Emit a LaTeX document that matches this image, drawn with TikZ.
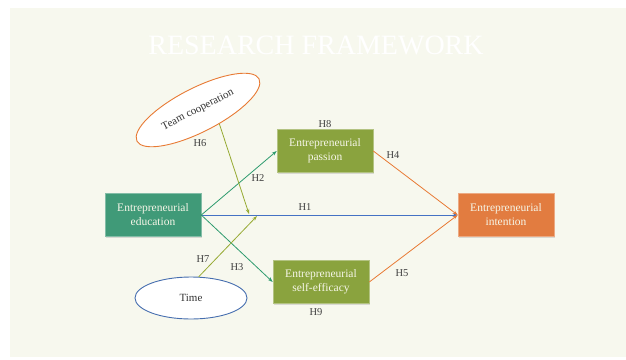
\documentclass[tikz,border=0pt]{standalone}
\usepackage{fontspec}
\setmainfont{Liberation Serif}
\usetikzlibrary{positioning}
\usetikzlibrary{shapes.geometric}
\usetikzlibrary{arrows.meta}
\usetikzlibrary{shadows}

\definecolor{eduteal}{RGB}{64,154,120}
\definecolor{midolive}{RGB}{138,163,62}
\definecolor{intorange}{RGB}{226,124,64}
\definecolor{linkblue}{RGB}{68,114,196}
\definecolor{linkgreen}{RGB}{46,155,110}
\definecolor{linklime}{RGB}{150,170,50}
\definecolor{linkorange}{RGB}{232,122,52}
\definecolor{ellblue}{RGB}{70,110,175}
\definecolor{paper}{RGB}{247,248,238}
\definecolor{boxtext}{RGB}{246,246,232}

\begin{document}
\begin{tikzpicture}
 [ x=1pt, y=-1pt
 , construct/.style={rectangle, minimum width=96pt, minimum height=43pt, align=center,
     text=boxtext, font=\fontsize{11.5}{14}\selectfont, line width=0.6pt,
     drop shadow={opacity=0.25, shadow xshift=1.2pt, shadow yshift=-1.2pt}}
 , moderator/.style={ellipse, fill=white, inner sep=0pt, line width=0.9pt,
     text=black!80, font=\fontsize{11}{13}\selectfont}
 , link/.style={-{Stealth[length=5pt, width=3.5pt]}, line width=0.8pt}
 , hyp/.style={text=black!75, font=\fontsize{10.5}{12}\selectfont, inner sep=1pt}
 ]
  % background
  \fill[white] (0,0) rectangle (626,359);
  \fill[paper] (10,8) rectangle (626,357);
  \useasboundingbox (0,0) rectangle (626,359);

  \node[text=white, font=\fontsize{28}{32}\selectfont] (title) at (316,45) {RESEARCH FRAMEWORK};

  % constructs
  \node[construct, fill=eduteal, draw=eduteal!65!white] (edu) at (153,215)
    {Entrepreneurial\\education};
  \node[construct, fill=midolive, draw=midolive!65!white] (pas) at (325,151)
    {Entrepreneurial\\passion};
  \node[construct, fill=midolive, draw=midolive!65!white] (eff) at (321,282)
    {Entrepreneurial\\self-efficacy};
  \node[construct, fill=intorange, draw=intorange!65!white] (int) at (506,215)
    {Entrepreneurial\\intention};

  % moderators
  \node[moderator, draw=linkorange, rotate=27, minimum width=137pt, minimum height=44pt]
    (team) at (198,110) {Team cooperation};
  \node[moderator, draw=ellblue, minimum width=112pt, minimum height=42pt]
    (time) at (191,298) {Time};

  \coordinate (m6) at (249,214);
  \coordinate (m7) at (257,216);

  % paths
  \draw[link, linkblue] (edu.east) -- (int.west);
  \draw[link, linkgreen] (edu.east) -- (pas.west);
  \draw[link, linkgreen] (edu.east) -- (eff.west);
  \draw[link, linkorange] (pas.east) -- (int.west);
  \draw[link, linkorange] (eff.east) -- (int.west);
  \draw[link, linklime] (team.300) -- (m6);
  \draw[link, linklime] (time.70) -- (m7);

  % hypotheses
  \node[hyp] (h1) at (305,207) {H1};
  \node[hyp] (h2) at (258,178) {H2};
  \node[hyp] (h3) at (237,267) {H3};
  \node[hyp] (h4) at (393,155) {H4};
  \node[hyp] (h5) at (402,273) {H5};
  \node[hyp] (h6) at (200,143) {H6};
  \node[hyp] (h7) at (203,259) {H7};
  \node[hyp] (h8) at (325,124) {H8};
  \node[hyp] (h9) at (316,312) {H9};
\end{tikzpicture}
\end{document}
